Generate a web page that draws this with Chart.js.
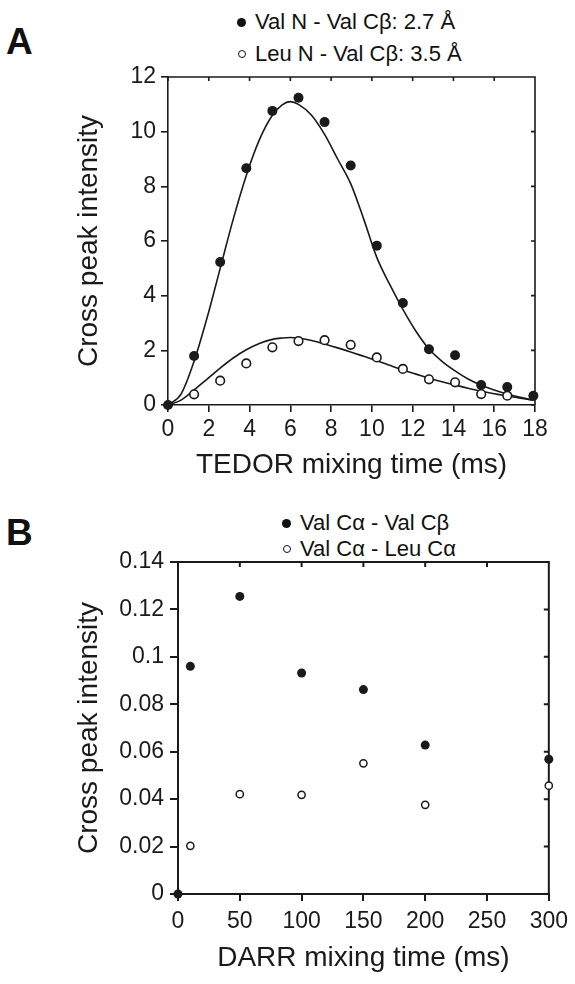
<!DOCTYPE html>
<html>
<head>
<meta charset="utf-8">
<script src="https://cdn.jsdelivr.net/npm/chart.js@4.4.1/dist/chart.umd.min.js"></script>
<style>
  body { margin: 0; width: 575px; height: 984px; background: #fff; position: relative; overflow: hidden;
         font-family: "Liberation Sans", Arial, sans-serif; color: #111; }
  canvas { position: absolute; left: 0; }
  .letter { position: absolute; left: 6px; font-weight: bold; font-size: 37px; line-height: 37px; }
  .leg { position: absolute; height: 24px; display: flex; align-items: center; font-size: 22px; white-space: nowrap; }
  .dot { width: 9px; height: 9px; border-radius: 50%; background: #111; margin-right: 9px; box-sizing: border-box; }
  .dot.open { background: #fff; border: 1.5px solid #111; width: 8px; height: 8px; margin-left: 0.5px; margin-right: 9.5px; }
</style>
</head>
<body>
<div class="letter" style="top:23px">A</div>
<div class="leg" style="left:237px; top:10px"><span class="dot"></span>Val N - Val Cβ: 2.7 Å</div>
<div class="leg" style="left:237px; top:42px"><span class="dot open"></span>Leu N - Val Cβ: 3.5 Å</div>
<canvas id="chartA" width="575" height="490" style="top:0"></canvas>

<div class="letter" style="top:514px">B</div>
<div class="leg" style="left:282px; top:511px"><span class="dot"></span>Val Cα - Val Cβ</div>
<div class="leg" style="left:282px; top:537px"><span class="dot open"></span>Val Cα - Leu Cα</div>
<canvas id="chartB" width="575" height="489" style="top:495px"></canvas>

<script>
// ---- panel A: TEDOR build-up ----
const tedorTimes = [0, 1.28, 2.56, 3.84, 5.12, 6.4, 7.68, 8.96, 10.24, 11.52, 12.8, 14.08, 15.36, 16.64, 17.92];
const valNValCb = [0, 1.79, 5.23, 8.66, 10.76, 11.24, 10.35, 8.76, 5.83, 3.73, 2.04, 1.82, 0.73, 0.66, 0.34];
const leuTimes = [1.28, 2.56, 3.84, 5.12, 6.4, 7.68, 8.96, 10.24, 11.52, 12.8, 14.08, 15.36, 16.64];
const leuNValCb = [0.39, 0.89, 1.52, 2.11, 2.34, 2.37, 2.2, 1.74, 1.32, 0.94, 0.83, 0.40, 0.34];

// fitted curves
const fitTimes = [0, 0.64, 1.28, 1.92, 2.56, 3.2, 3.84, 4.48, 5.12, 5.6, 6.0, 6.4, 7.04, 7.68, 8.32, 8.96,
                  9.6, 10.24, 10.88, 11.52, 12.16, 12.8, 13.44, 14.08, 14.72, 15.36, 16, 16.64, 17.28, 17.92];
const fitValN = [0, 0.4, 1.6, 3.2, 5.0, 6.8, 8.4, 9.7, 10.6, 10.98, 11.1, 11.0, 10.6, 9.9, 9.0, 8.1,
                 6.8, 5.4, 4.4, 3.5, 2.7, 2.05, 1.6, 1.25, 0.95, 0.72, 0.55, 0.4, 0.28, 0.17];
const fitLeuN = [0, 0.18, 0.55, 0.95, 1.35, 1.72, 2.02, 2.25, 2.4, 2.45, 2.47, 2.45, 2.36, 2.23, 2.09, 1.94,
                 1.78, 1.62, 1.45, 1.28, 1.13, 0.98, 0.85, 0.73, 0.61, 0.5, 0.41, 0.33, 0.25, 0.18];

const xTicksA = [0, 2, 4, 6, 8, 10, 12, 14, 16, 18];
const yTicksA = [0, 2, 4, 6, 8, 10, 12];

// ---- panel B: DARR ----
const darrTimes = [0, 10, 50, 100, 150, 200, 300];
const valCaValCb = [0, 0.096, 0.1255, 0.0932, 0.0862, 0.0628, 0.0568];
const darrTimesLeu = [10, 50, 100, 150, 200, 300];
const valCaLeuCa = [0.0203, 0.0421, 0.0418, 0.0551, 0.0376, 0.0457];

const xTicksB = [0, 50, 100, 150, 200, 250, 300];
const yTicksB = [0, 0.02, 0.04, 0.06, 0.08, 0.1, 0.12, 0.14];
const yLabelsB = ['0', '0.02', '0.04', '0.06', '0.08', '0.1', '0.12', '0.14'];

const FONT = '"Liberation Sans", Arial, sans-serif';
const INK = '#1a1a1a';
Chart.defaults.font.family = FONT;
Chart.defaults.color = INK;

const pts = (xs, ys) => xs.map((x, i) => ({ x: x, y: ys[i] }));

// top/right frame lines with inward ticks
const framePlugin = {
  id: 'frame',
  beforeDatasetsDraw(chart, args, opts) {
    const { ctx, chartArea: a } = chart;
    const x = chart.scales.x, y = chart.scales.y;
    ctx.save();
    ctx.strokeStyle = INK;
    ctx.lineWidth = opts.width;
    ctx.beginPath();
    ctx.moveTo(a.left, a.top);
    ctx.lineTo(a.right, a.top);
    ctx.lineTo(a.right, a.bottom);
    x.ticks.forEach(t => {
      const px = x.getPixelForValue(t.value);
      ctx.moveTo(px, a.top);
      ctx.lineTo(px, a.top + opts.len);
    });
    y.ticks.forEach(t => {
      const py = y.getPixelForValue(t.value);
      ctx.moveTo(a.right, py);
      ctx.lineTo(a.right - opts.len, py);
    });
    ctx.stroke();
    ctx.restore();
  }
};

function axis(o) {
  return {
    type: 'linear', position: o.pos, min: o.min, max: o.max,
    afterBuildTicks: s => { s.ticks = o.ticks.map(v => ({ value: v })); },
    afterFit: s => { if (o.pos === 'left') s.width = o.size; else s.height = o.size; },
    grid: { drawOnChartArea: false, drawTicks: true, tickLength: o.tl, color: INK, lineWidth: o.lw },
    border: { display: true, color: INK, width: o.lw },
    ticks: { autoSkip: false, maxRotation: 0, padding: o.pad, color: INK, font: { size: 23 },
             callback: (v, i) => o.labels ? o.labels[i] : String(v) },
    title: { display: true, text: o.title, color: INK, font: { size: 28 }, padding: o.tpad }
  };
}

new Chart(document.getElementById('chartA'), {
  type: 'scatter',
  data: {
    datasets: [
      { label: 'Val N - Val Cβ: 2.7 Å', data: pts(tedorTimes, valNValCb), pointRadius: 5,
        backgroundColor: INK, borderColor: INK, borderWidth: 0, clip: false },
      { label: 'Leu N - Val Cβ: 3.5 Å', data: pts(leuTimes, leuNValCb), pointRadius: 4.3,
        backgroundColor: '#fff', borderColor: INK, borderWidth: 1.6, clip: false },
      { label: 'fit Val', data: pts(fitTimes, fitValN), showLine: true, pointRadius: 0,
        borderColor: INK, borderWidth: 1.6, cubicInterpolationMode: 'monotone' },
      { label: 'fit Leu', data: pts(fitTimes, fitLeuN), showLine: true, pointRadius: 0,
        borderColor: INK, borderWidth: 1.6, cubicInterpolationMode: 'monotone' }
    ]
  },
  options: {
    responsive: false, animation: false, events: [],
    layout: { padding: { top: 77, right: 40, left: 0, bottom: 0 } },
    plugins: { legend: { display: false }, tooltip: { enabled: false }, frame: { width: 1.6, len: 4 } },
    scales: {
      x: axis({ pos: 'bottom', min: 0, max: 18, ticks: xTicksA, size: 85, tl: 7, pad: 4, lw: 1.6,
                title: 'TEDOR mixing time (ms)', tpad: { top: 0, bottom: 8 } }),
      y: axis({ pos: 'left', min: 0, max: 12, ticks: yTicksA, size: 168, tl: 7, pad: 5, lw: 1.6,
                title: 'Cross peak intensity', tpad: { top: 72, bottom: 0 } })
    }
  },
  plugins: [framePlugin]
});

new Chart(document.getElementById('chartB'), {
  type: 'scatter',
  data: {
    datasets: [
      { label: 'Val Cα - Val Cβ', data: pts(darrTimes, valCaValCb), pointRadius: 4.5,
        backgroundColor: INK, borderColor: INK, borderWidth: 0, clip: false },
      { label: 'Val Cα - Leu Cα', data: pts(darrTimesLeu, valCaLeuCa), pointRadius: 3.6,
        backgroundColor: '#fff', borderColor: INK, borderWidth: 1.5, clip: false }
    ]
  },
  options: {
    responsive: false, animation: false, events: [],
    layout: { padding: { top: 67, right: 26, left: 0, bottom: 0 } },
    plugins: { legend: { display: false }, tooltip: { enabled: false }, frame: { width: 2, len: 5 } },
    scales: {
      x: axis({ pos: 'bottom', min: 0, max: 300, ticks: xTicksB, size: 90, tl: 7, pad: 7, lw: 2,
                title: 'DARR mixing time (ms)', tpad: { top: 0, bottom: 9 } }),
      y: axis({ pos: 'left', min: 0, max: 0.14, ticks: yTicksB, labels: yLabelsB, size: 178, tl: 8, pad: 6, lw: 2,
                title: 'Cross peak intensity', tpad: { top: 72, bottom: 0 } })
    }
  },
  plugins: [framePlugin]
});
</script>
</body>
</html>
